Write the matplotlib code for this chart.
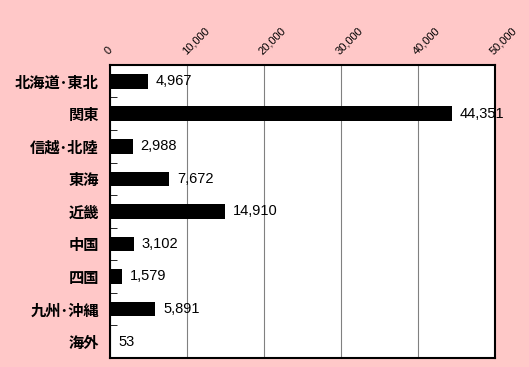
import matplotlib
matplotlib.use("Agg")
import matplotlib.pyplot as plt
import numpy as np

plt.rcParams['font.family'] = ['Noto Sans CJK JP', 'DejaVu Sans']

regions = ["北海道･東北", "関東", "信越･北陸", "東海", "近畿", "中国", "四国", "九州･沖縄", "海外"]
values = [4967, 44351, 2988, 7672, 14910, 3102, 1579, 5891, 53]
x_ticks = [0, 10000, 20000, 30000, 40000, 50000]

fig = plt.figure(figsize=(5.29, 3.67), dpi=100)
fig.patch.set_facecolor("#ffc8c8")
ax = fig.add_axes([0.208, 0.025, 0.728, 0.798])
ax.set_facecolor("white")

y = np.arange(len(regions))
ax.barh(y, values, height=0.45, color="black", zorder=3)

# value labels beside bars
for yi, v in zip(y, values):
    ax.text(v + 1000, yi, f"{v:,}", va="center", ha="left", fontsize=10.5,
            family=["Liberation Sans", "DejaVu Sans"], zorder=4)

ax.set_xlim(0, 50000)
ax.set_ylim(len(regions) - 0.5, -0.5)
ax.set_xticks(x_ticks)
ax.set_xticklabels([f"{t:,}" for t in x_ticks], rotation=45, ha="left",
                   rotation_mode="anchor", fontsize=8,
                   family=["Liberation Sans", "DejaVu Sans"])
ax.xaxis.tick_top()
ax.tick_params(axis="x", length=0, pad=6)
ax.grid(axis="x", color="#808080", linewidth=0.8, zorder=0)

ax.set_yticks(y)
ax.set_yticklabels(regions, fontsize=11, fontweight="bold")
ax.tick_params(axis="y", which="major", length=0, pad=8)
ax.set_yticks(np.arange(0.5, len(regions) - 0.5), minor=True)
ax.tick_params(axis="y", which="minor", length=5, direction="in")

for s in ax.spines.values():
    s.set_linewidth(1.5)
    s.set_color("black")

plt.savefig("out.png", dpi=100, facecolor=fig.get_facecolor())
